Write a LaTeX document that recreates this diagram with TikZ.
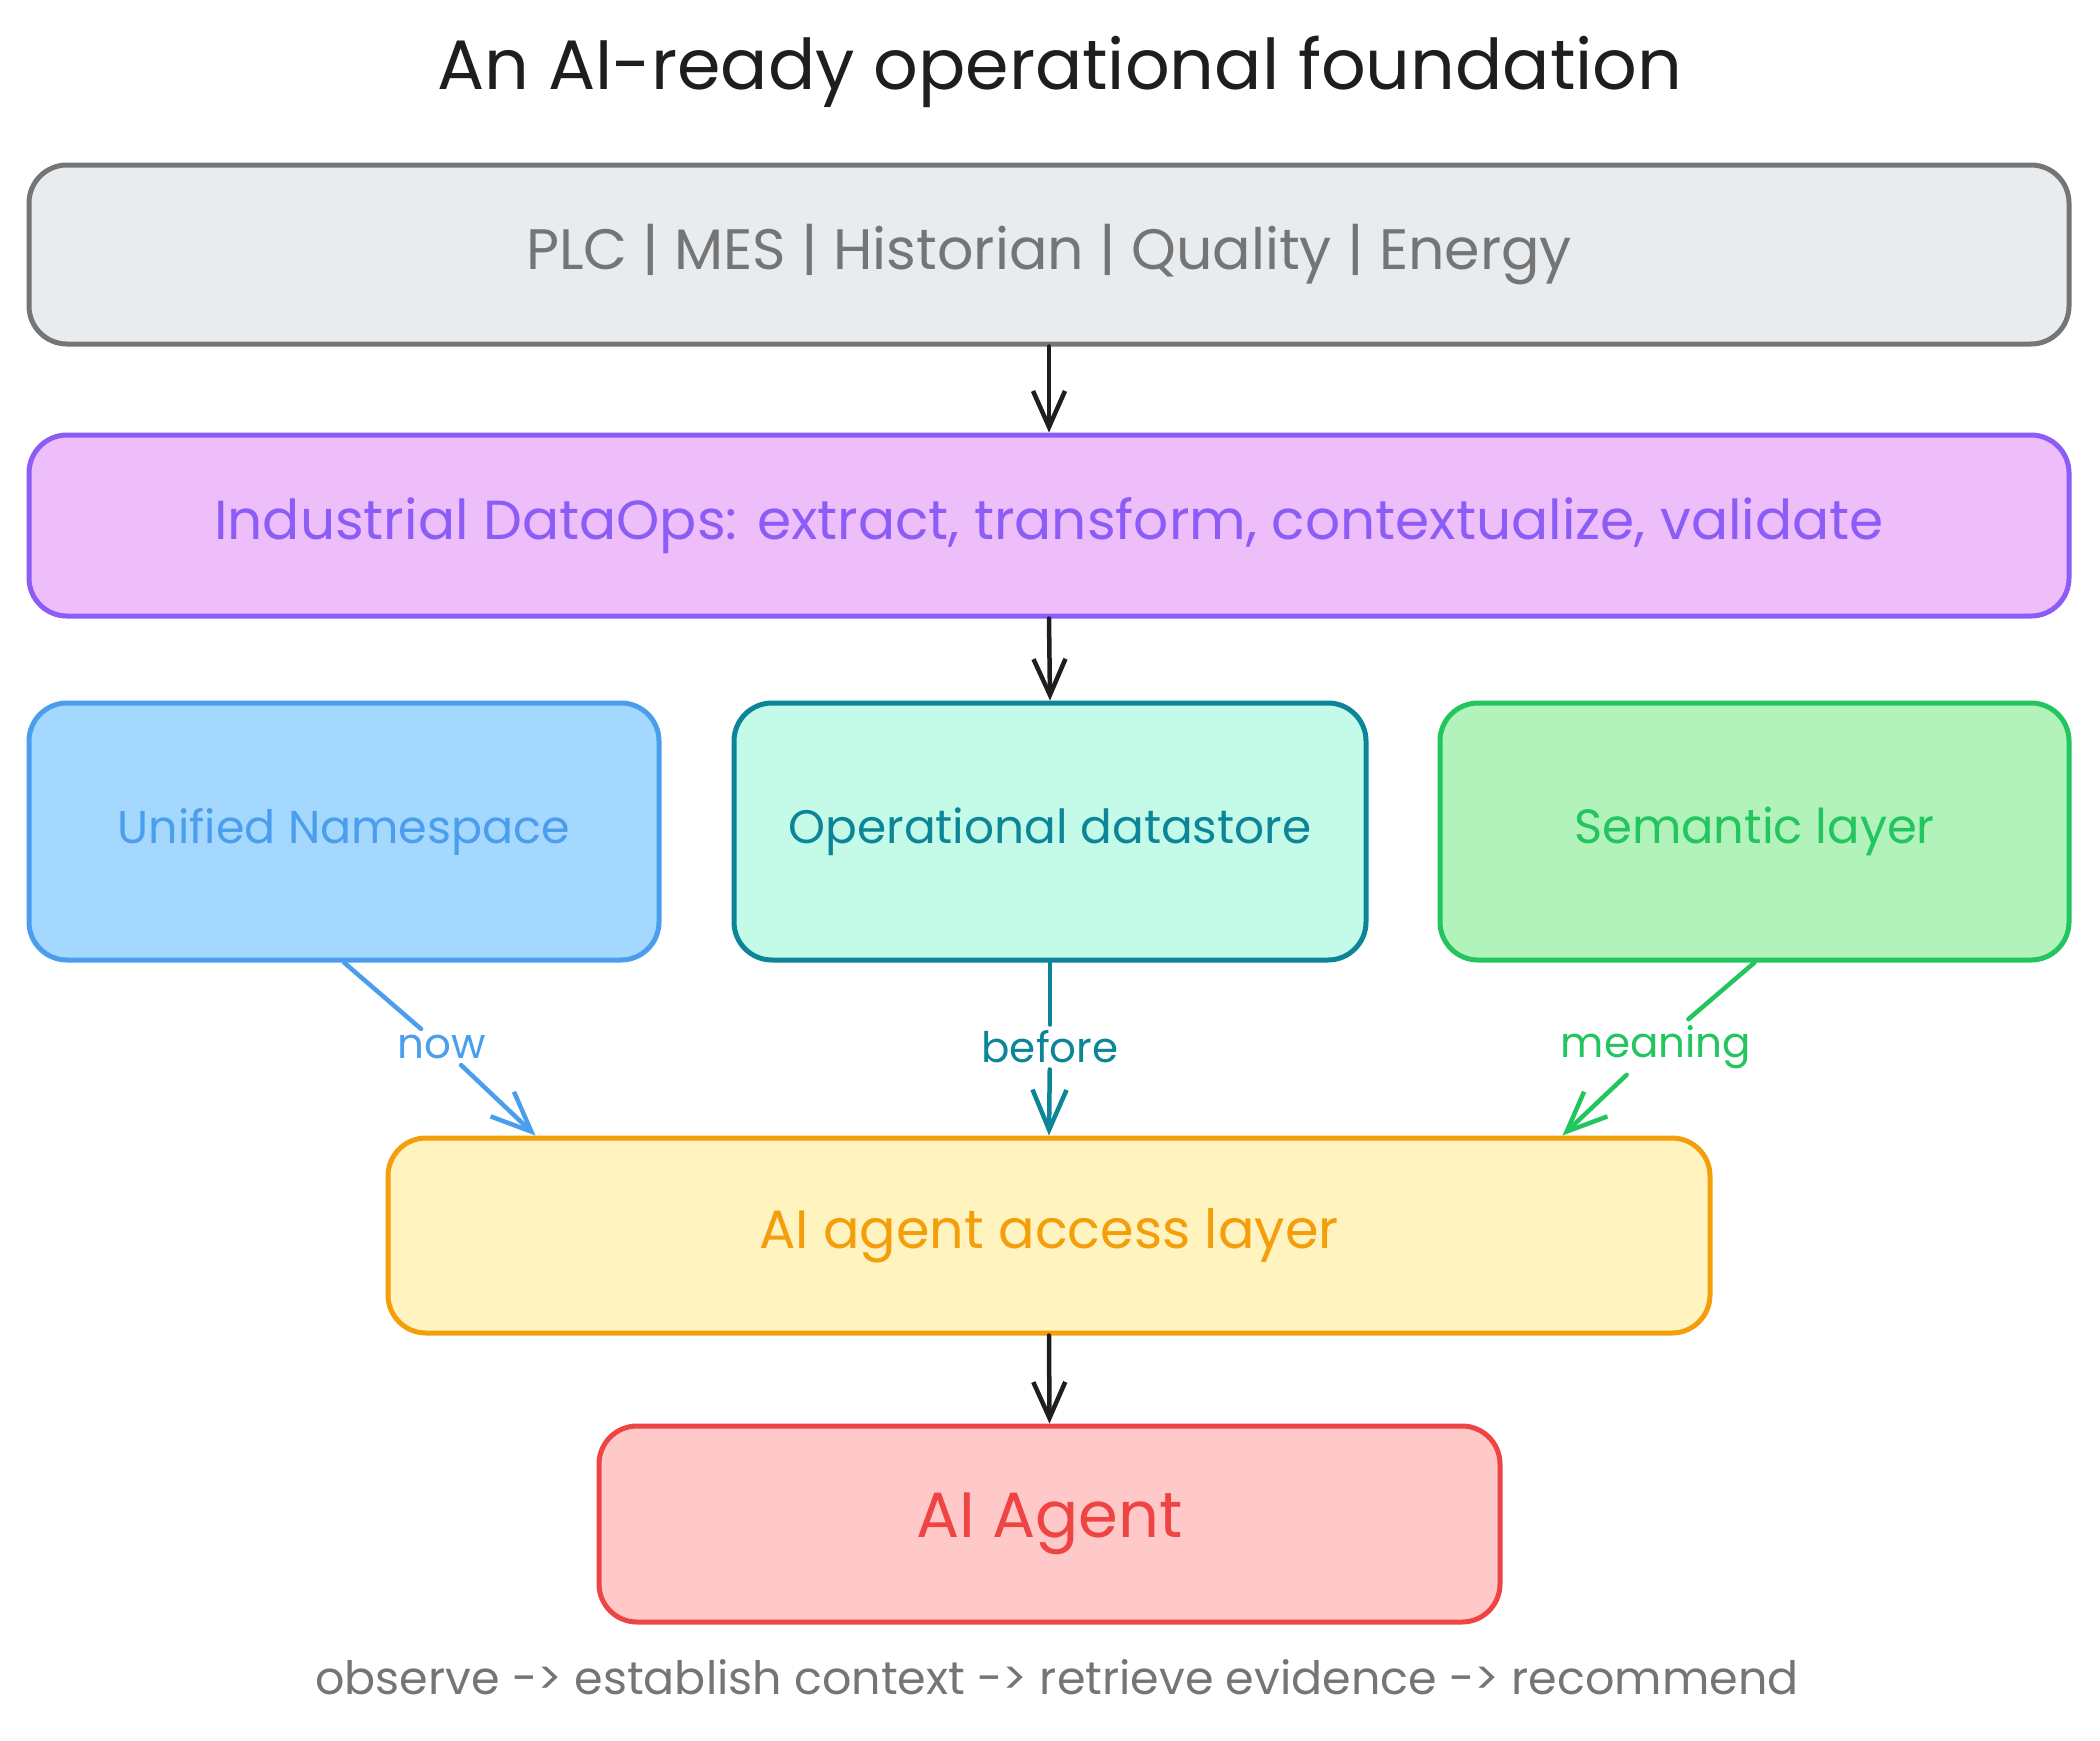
\documentclass[tikz,border=0pt]{standalone}
\usepackage{fontspec}
\setmainfont{Poppins}
\usetikzlibrary{arrows.meta,calc}
\definecolor{inkblack}{HTML}{1E1E1E}
\definecolor{graystroke}{HTML}{757575}
\definecolor{grayfill}{HTML}{E9ECEF}
\definecolor{purplestroke}{HTML}{8B5CF6}
\definecolor{purplefill}{HTML}{EEBEFA}
\definecolor{bluestroke}{HTML}{4A9EED}
\definecolor{bluefill}{HTML}{A5D8FF}
\definecolor{tealstroke}{HTML}{0C8599}
\definecolor{tealfill}{HTML}{C3FAE8}
\definecolor{greenstroke}{HTML}{22C55E}
\definecolor{greenfill}{HTML}{B2F2BB}
\definecolor{yellowstroke}{HTML}{F59E0B}
\definecolor{yellowfill}{HTML}{FFF3BF}
\definecolor{redstroke}{HTML}{EF4444}
\definecolor{redfill}{HTML}{FFC9C9}
\begin{document}
\begin{tikzpicture}[x=1pt,y=-1pt,
  box/.style={draw, rounded corners=38pt, line width=5pt, inner sep=0pt,
    font=\fontsize{55}{66}\selectfont},
  midbox/.style={box, font=\fontsize{47}{56}\selectfont},
  lbl/.style={inner sep=6pt, font=\fontsize{42}{50}\selectfont},
  flow/.style={draw=inkblack, line width=4.5pt, line cap=round, line join=round,
    -{Straight Barb[length=36pt,width=32pt,line width=4.5pt]}},
  cflow/.style={line width=4.5pt, line cap=round, line join=round},
  ctip/.style={-{Straight Barb[length=40pt,width=34pt,line width=4.5pt]}}
]
\useasboundingbox (0,0) rectangle (2100,1740);

\node[font=\fontsize{70}{84}\selectfont, text=inkblack] (title) at (1060,72) {An AI-ready operational foundation};

\node[box, draw=graystroke, fill=grayfill, text=graystroke,
  font=\fontsize{57}{68}\selectfont,
  minimum width=2040pt, minimum height=179pt] (src) at (1049,254.5)
  {PLC | MES | Historian | Quality | Energy};

\node[box, draw=purplestroke, fill=purplefill, text=purplestroke,
  minimum width=2040pt, minimum height=181pt] (ops) at (1049,525.5)
  {Industrial DataOps: extract, transform, contextualize, validate};

\node[midbox, draw=bluestroke, fill=bluefill, text=bluestroke,
  font=\fontsize{46}{55}\selectfont,
  minimum width=630pt, minimum height=257pt] (ns) at (344,831.5)
  {Unified Namespace};
\node[midbox, draw=tealstroke, fill=tealfill, text=tealstroke,
  minimum width=632pt, minimum height=257pt] (ds) at (1050,831.5)
  {Operational datastore};
\node[midbox, draw=greenstroke, fill=greenfill, text=greenstroke,
  font=\fontsize{48}{58}\selectfont,
  minimum width=629pt, minimum height=257pt] (sem) at (1754.5,831.5)
  {Semantic layer};

\node[box, draw=yellowstroke, fill=yellowfill, text=yellowstroke,
  font=\fontsize{54}{65}\selectfont,
  minimum width=1322pt, minimum height=195pt] (acc) at (1049,1235.5)
  {AI agent access layer};

\node[box, draw=redstroke, fill=redfill, text=redstroke,
  minimum width=901pt, minimum height=196pt,
  font=\fontsize{64}{77}\selectfont] (agent) at (1049.5,1524)
  {AI Agent};

\node[font=\fontsize{46}{55}\selectfont, text=graystroke] (steps) at (1057,1677)
  {observe -> establish context -> retrieve evidence -> recommend};

% edge labels
\node[lbl, text=bluestroke] (now) at (442,1047) {now};
\node[lbl, text=tealstroke] (before) at (1050,1047) {before};
\node[lbl, text=greenstroke] (meaning) at (1656,1047) {meaning};

% black flows
\draw[flow] (src.south) -- (ops.north);
\draw[flow] (ops.south) -- (ds.north);
\draw[flow] (acc.south) -- (agent.north);

% coloured flows with gap at label
\draw[cflow, draw=bluestroke] (ns.south) -- (now);
\draw[cflow, ctip, draw=bluestroke] (now) -- ([xshift=150pt]acc.north west);
\draw[cflow, draw=tealstroke] (ds.south) -- (before);
\draw[cflow, ctip, draw=tealstroke] (before) -- (acc.north);
\draw[cflow, draw=greenstroke] (sem.south) -- (meaning);
\draw[cflow, ctip, draw=greenstroke] (meaning) -- ([xshift=-150pt]acc.north east);
\end{tikzpicture}
\end{document}
